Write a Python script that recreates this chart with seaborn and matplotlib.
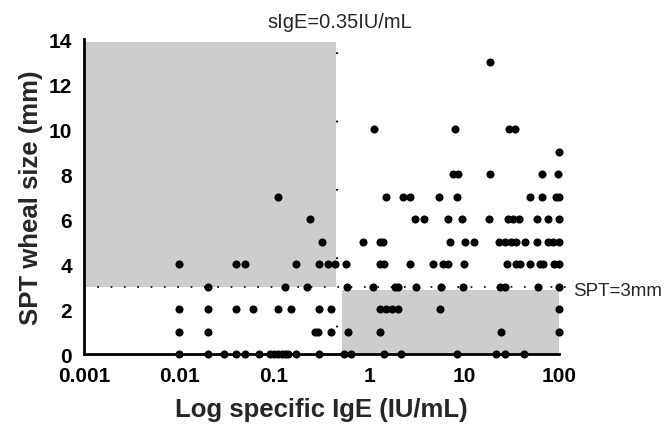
import numpy as np
import pandas as pd
import matplotlib
matplotlib.use('Agg')
import matplotlib.pyplot as plt
import seaborn as sns

# specific IgE values (IU/mL), grouped by SPT wheal size (mm)
spt_13 = [18.7]
spt_10 = [1.14, 8.0, 30, 34]
spt_9 = [100]
spt_8 = [7.7, 8.7, 18.7, 66, 98]
spt_7 = [0.11, 1.5, 2.3, 2.7, 5.5, 8.4, 50, 66, 93, 100]
spt_6 = [0.24, 3.05, 3.8, 6.7, 9.5, 18.5, 29, 33, 38, 58, 76, 99]
spt_5 = [0.32, 0.87, 1.3, 1.4, 7.1, 10.2, 12.6, 23.4, 27, 31, 35, 44, 58,
         76, 87, 99]
spt_4 = [0.01, 0.04, 0.05, 0.17, 0.30, 0.37, 0.44, 0.57, 1.31, 1.44, 2.7,
         4.7, 6.0, 6.7, 10.1, 28, 35, 39, 50, 63, 68, 88, 99]
spt_3 = [0.02, 0.13, 0.22, 0.58, 1.11, 1.88, 2.02, 3.1, 5.7, 9.7, 24, 27,
         60, 100]
spt_2 = [0.01, 0.02, 0.04, 0.06, 0.11, 0.15, 0.30, 0.40, 1.31, 1.51, 1.75,
         2.0, 5.6, 100]
spt_1 = [0.01, 0.02, 0.27, 0.29, 0.40, 0.60, 1.31, 24.5, 100]
spt_0 = [0.01, 0.02, 0.03, 0.04, 0.05, 0.07, 0.09, 0.10, 0.11, 0.12, 0.13,
         0.14, 0.17, 0.30, 0.55, 0.65, 1.44, 2.17, 8.4, 21.7, 27, 43]

rows = {13: spt_13, 10: spt_10, 9: spt_9, 8: spt_8, 7: spt_7, 6: spt_6,
        5: spt_5, 4: spt_4, 3: spt_3, 2: spt_2, 1: spt_1, 0: spt_0}
df = pd.DataFrame([(x, s) for s, xs in rows.items() for x in xs],
                  columns=['sige', 'spt'])

x_ticks = [0.001, 0.01, 0.1, 1, 10, 100]
x_tick_labels = ['0.001', '0.01', '0.1', '1', '10', '100']
y_ticks = [0, 2, 4, 6, 8, 10, 12, 14]

sige_cut = 0.46
spt_cut = 3

sns.set_style('white')
plt.rcParams['font.family'] = ['Liberation Sans', 'DejaVu Sans']

fig, ax = plt.subplots(figsize=(6.72, 4.31), dpi=100)
fig.subplots_adjust(left=0.125, right=0.832, bottom=0.176, top=0.907)

# shaded discordant regions
gray = '#cdcdcd'
ax.axvspan(0.001, 0.45, ymin=2.97 / 14, ymax=13.87 / 14, color=gray,
           lw=0, zorder=0)
ax.axvspan(0.52, 100, ymin=0, ymax=2.85 / 14, color=gray, lw=0, zorder=0)

sns.scatterplot(data=df, x='sige', y='spt', ax=ax, color='black',
                marker='o', s=34, edgecolor='black', linewidth=0,
                clip_on=False, zorder=3)

ax.set_xscale('log')
ax.set_xlim(0.001, 100)
ax.set_ylim(0, 14)
ax.set_xticks(x_ticks)
ax.set_xticklabels(x_tick_labels)
ax.set_yticks(y_ticks)
ax.minorticks_off()

# cut-off lines (vertical one is very sparse in the original)
ax.axhline(spt_cut, xmin=0, xmax=1.025, color='black', ls=(0, (1, 7)),
           lw=1.2, clip_on=False, zorder=2)
ax.axvline(sige_cut, color='black', ls=(20, (0.8, 32)), lw=1.5, zorder=2)
ax.text(1.03, spt_cut - 0.15, 'SPT=3mm', transform=ax.get_yaxis_transform(),
        ha='left', va='center', fontsize=13.5)
ax.text(sige_cut * 1.08, 14.55, 'sIgE=0.35IU/mL', ha='center',
        va='baseline', fontsize=14.5)

for side in ['top', 'right']:
    ax.spines[side].set_visible(False)
for side in ['left', 'bottom']:
    ax.spines[side].set_linewidth(2)
    ax.spines[side].set_color('black')
ax.tick_params(axis='both', direction='out', length=6, width=2,
               labelsize=15, colors='black', pad=2.5)
for lab in ax.get_xticklabels() + ax.get_yticklabels():
    lab.set_fontweight('bold')

ax.set_xlabel('Log specific IgE (IU/mL)', fontsize=18.5, fontweight='bold',
              labelpad=9)
ax.set_ylabel('SPT wheal size (mm)', fontsize=18.5, fontweight='bold',
              labelpad=4)

plt.savefig('out.png', dpi=100)
plt.close()
